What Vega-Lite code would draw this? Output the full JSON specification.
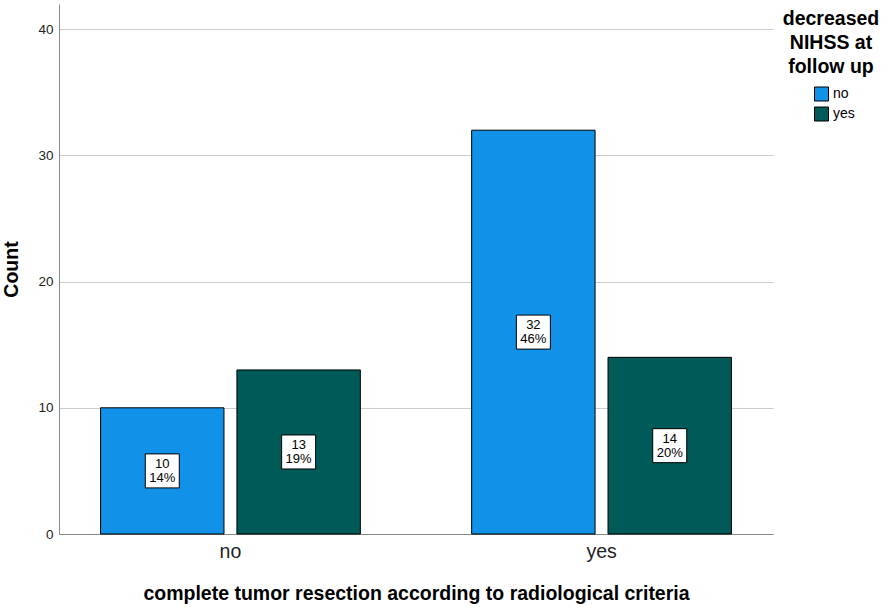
{
  "$schema": "https://vega.github.io/schema/vega-lite/v6.json",
  "autosize": "none",
  "padding": {"left": 59, "top": 4, "right": 113, "bottom": 73},
  "width": 714,
  "height": 530,
  "data": {
    "values": [
      {"resection": "no", "nihss": "no", "count": 10, "pct": "14%"},
      {"resection": "no", "nihss": "yes", "count": 13, "pct": "19%"},
      {"resection": "yes", "nihss": "no", "count": 32, "pct": "46%"},
      {"resection": "yes", "nihss": "yes", "count": 14, "pct": "20%"}
    ]
  },
  "transform": [
    {"calculate": "datum.count / 2", "as": "mid"},
    {"calculate": "[toString(datum.count), datum.pct]", "as": "label"}
  ],
  "encoding": {
    "x": {
      "field": "resection",
      "type": "nominal",
      "scale": {"paddingInner": 0.3, "paddingOuter": 0.112},
      "axis": {
        "title": "complete tumor resection according to radiological criteria",
        "labelAngle": 0,
        "labelFontSize": 19.5,
        "labelPadding": 8,
        "ticks": false,
        "titleFontSize": 19.5,
        "titlePadding": 24
      }
    },
    "xOffset": {
      "field": "nihss",
      "type": "nominal",
      "scale": {"paddingInner": 0.095, "paddingOuter": 0}
    }
  },
  "layer": [
    {
      "mark": {"type": "bar", "stroke": "black", "strokeWidth": 1},
      "encoding": {
        "y": {
          "field": "count",
          "type": "quantitative",
          "scale": {"domain": [0, 42], "nice": false},
          "axis": {
            "title": "Count",
            "values": [0, 10, 20, 30, 40],
            "ticks": false,
            "labelFontSize": 13.5,
            "labelPadding": 6,
            "titleFontSize": 19.5,
            "titlePadding": 16
          }
        },
        "color": {
          "field": "nihss",
          "type": "nominal",
          "scale": {"domain": ["no", "yes"], "range": ["#1192e8", "#005a57"]},
          "legend": {
            "title": ["decreased", "NIHSS at", "follow up"],
            "orient": "none",
            "legendX": 724,
            "legendY": 6,
            "titleAlign": "center",
            "titleAnchor": "middle",
            "titleFontSize": 19.5,
            "titleLineHeight": 24,
            "titlePadding": 9,
            "symbolType": "square",
            "symbolSize": 196,
            "symbolStrokeColor": "black",
            "symbolStrokeWidth": 1,
            "symbolOffset": 6,
            "labelFontSize": 14,
            "labelOffset": 4,
            "rowPadding": 1
          }
        }
      }
    },
    {
      "mark": {"type": "point", "shape": "square", "size": 1156, "filled": true, "fill": "white", "stroke": "black", "strokeWidth": 1, "opacity": 1},
      "encoding": {
        "y": {"field": "mid", "type": "quantitative"}
      }
    },
    {
      "mark": {"type": "text", "fontSize": 13, "color": "black", "lineHeight": 14, "baseline": "middle", "dy": -7},
      "encoding": {
        "y": {"field": "mid", "type": "quantitative"},
        "text": {"field": "label"}
      }
    }
  ],
  "config": {
    "font": "Liberation Sans",
    "view": {"stroke": null},
    "axis": {
      "domainColor": "#888888",
      "gridColor": "#cccccc",
      "labelColor": "#222222",
      "titleColor": "black",
      "titleFontWeight": "bold",
      "labelFont": "Liberation Sans",
      "titleFont": "Liberation Sans"
    },
    "axisX": {"grid": false},
    "axisY": {"grid": true},
    "legend": {"titleFontWeight": "bold", "titleColor": "black", "labelColor": "black"}
  }
}
